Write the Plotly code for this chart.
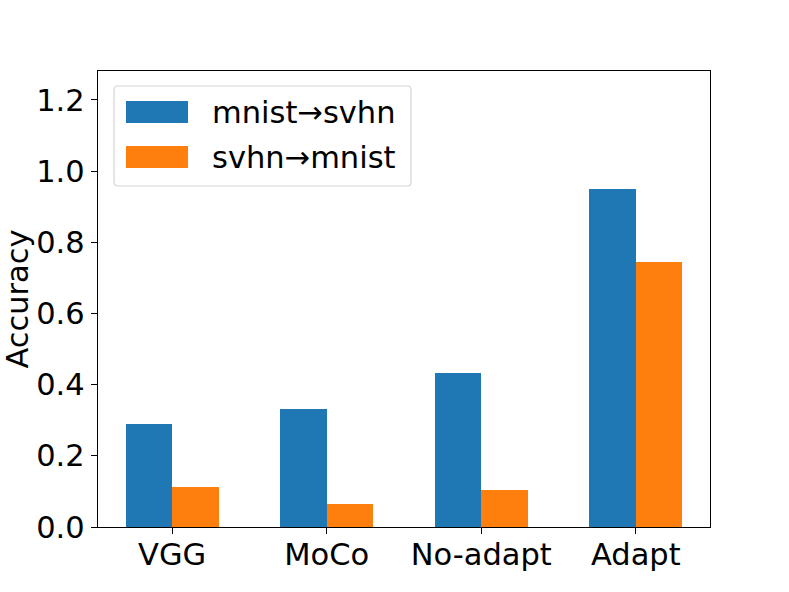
import plotly.graph_objects as go

categories = ["VGG", "MoCo", "No-adapt", "Adapt"]
series_names = ["mnist→svhn", "svhn→mnist"]
mnist_to_svhn = [0.288, 0.331, 0.434, 0.949]
svhn_to_mnist = [0.111, 0.064, 0.105, 0.745]
y_tick_vals = [0.0, 0.2, 0.4, 0.6, 0.8, 1.0, 1.2]
y_tick_text = ["0.0", "0.2", "0.4", "0.6", "0.8", "1.0", "1.2"]

colors = ["#1f77b4", "#ff7f0e"]
FONT = "DejaVu Sans"
FS = 30.5

W, H = 789, 592
L, R, T, B = 98, 710, 71, 527
pw, ph = R - L, B - T

xpos = list(range(len(categories)))

fig = go.Figure()
fig.add_trace(go.Bar(x=xpos, y=mnist_to_svhn, name=series_names[0],
                     marker=dict(color=colors[0], line=dict(width=0)),
                     offset=-0.3, width=0.3, showlegend=False))
fig.add_trace(go.Bar(x=xpos, y=svhn_to_mnist, name=series_names[1],
                     marker=dict(color=colors[1], line=dict(width=0)),
                     offset=0.0, width=0.3, showlegend=False))

def px_x(p):
    return (p - L) / pw

def px_y(p):
    return (B - p) / ph

# legend box (rounded)
x0, x1, y0, y1 = px_x(114), px_x(411), px_y(186), px_y(86)
rx, ry = 4 / pw, 4 / ph
path = (f"M{x0+rx},{y0} L{x1-rx},{y0} Q{x1},{y0} {x1},{y0+ry} "
        f"L{x1},{y1-ry} Q{x1},{y1} {x1-rx},{y1} L{x0+rx},{y1} "
        f"Q{x0},{y1} {x0},{y1-ry} L{x0},{y0+ry} Q{x0},{y0} {x0+rx},{y0} Z")
shapes = [dict(type="path", xref="paper", yref="paper", path=path,
               fillcolor="rgba(255,255,255,0.8)",
               line=dict(color="#d4d4d4", width=1.2), layer="above")]
annotations = []
centers = [112, 157]
for i, name in enumerate(series_names):
    c = centers[i]
    shapes.append(dict(type="rect", xref="paper", yref="paper",
                       x0=px_x(126), x1=px_x(188), y0=px_y(c + 11), y1=px_y(c - 11),
                       fillcolor=colors[i], line=dict(width=0), layer="above"))
    annotations.append(dict(xref="paper", yref="paper", x=px_x(210), y=px_y(c),
                            xanchor="left", yanchor="middle", text=name,
                            showarrow=False, font=dict(family=FONT, size=FS, color="black")))

fig.update_layout(
    width=W, height=H,
    margin=dict(l=L, r=W - R, t=T, b=H - B, pad=0),
    paper_bgcolor="white", plot_bgcolor="white",
    font=dict(family=FONT, size=FS, color="black"),
    shapes=shapes, annotations=annotations,
    bargap=0, showlegend=False,
)
fig.update_xaxes(range=[-0.48, 3.48], tickvals=xpos, ticktext=categories,
                 automargin=False,
                 showgrid=False, zeroline=False, showline=True, linecolor="black",
                 linewidth=1.4, mirror=True, ticks="outside", ticklen=6, tickwidth=1.4,
                 tickcolor="black", ticklabelstandoff=-6,
                 tickfont=dict(family=FONT, size=FS, color="black"))
fig.update_yaxes(range=[0, 1.281], tickvals=y_tick_vals, ticktext=y_tick_text,
                 automargin=False,
                 showgrid=False, zeroline=False, showline=True, linecolor="black",
                 linewidth=1.4, mirror=True, ticks="outside", ticklen=6, tickwidth=1.4,
                 tickcolor="black", tickfont=dict(family=FONT, size=FS, color="black"),
                 title=dict(text="Accuracy", font=dict(family=FONT, size=FS, color="black"),
                            standoff=8))

fig.write_html("out.html", config={"displayModeBar": False},
               post_script="document.body.style.margin='0';document.body.style.padding='0';")
